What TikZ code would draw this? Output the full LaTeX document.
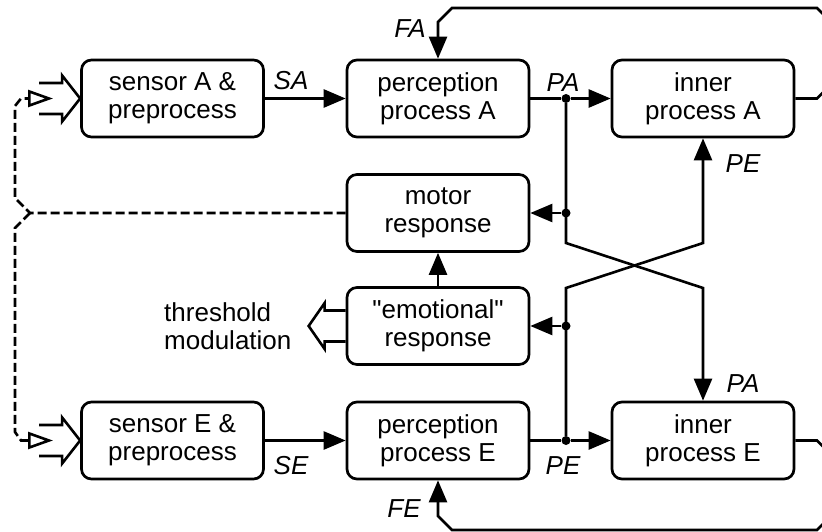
\documentclass[tikz,border=0pt]{standalone}
\usepackage{fontspec}
\setmainfont{Liberation Sans}[Ligatures=TeXOff]
\usetikzlibrary{arrows.meta}
\tikzset{
    block/.style={
        draw, line width=2.7pt, rounded corners=10pt,
        minimum width=182pt, minimum height=77pt,
        align=center, font=\fontsize{26}{28}\selectfont
    },
    wire/.style={line width=2.6pt},
    arr/.style={wire, -{Triangle[length=22pt,width=18pt]}},
    ctrl/.style={
        line width=2.6pt, dash pattern=on 9pt off 4pt,
        -{Triangle[open,length=25pt,width=17pt]}
    },
    lbl/.style={font=\fontsize{26}{28}\selectfont\itshape},
    dot/.style={circle, fill, inner sep=0pt, minimum size=9pt}
}
\newcommand{\fatarrow}[3] {
	\draw[wire] ([xshift=#3,yshift=15.5pt]#1) -- ([xshift=#2,yshift=15.5pt]#1) -- ([xshift=#2,yshift=23pt]#1) -- (#1)
		-- ([xshift=#2,yshift=-23pt]#1) -- ([xshift=#2,yshift=-15.5pt]#1) -- ([xshift=#3,yshift=-15.5pt]#1);
}
\begin{document}
\begin{tikzpicture}[x=1pt,y=-1pt]
		\useasboundingbox (0,0) rectangle (822,532);
		\clip (0,0) rectangle (822,532);

		% A row
		\node[block] (sensA) at (172.5,98.5) {sensor A \&\\preprocess};
		\node[block] (percA) at (438,98.5) {perception\\process A};
		\node[block] (innerA) at (703,98.5) {inner\\process A};

		% middle
		\node[block] (motor) at (438,213) {motor\\response};
		\node[block] (emot) at (438,326) {"emotional"\\response};

		% E row
		\node[block] (sensE) at (172.5,440.5) {sensor E \&\\preprocess};
		\node[block] (percE) at (438,440.5) {perception\\process E};
		\node[block] (innerE) at (703,440.5) {inner\\process E};

		% junctions
		\node[dot] (jA) at (566,98.5) {};
		\node[dot] (jE) at (566,440.5) {};
		\node[dot] (mA) at (566,213) {};
		\node[dot] (mE) at (566,326) {};

		\draw[arr] (sensA) -- (percA);
		\draw[arr] (sensE) -- (percE);
		\draw[wire] (percA) -- (jA);
		\draw[wire] (percE) -- (jE);
		\draw[arr] (jA) -- (innerA);
		\draw[arr] (jE) -- (innerE);
		\draw[arr] (jA) -- (566,243) -- (703,288) -- (innerE.north);
		\draw[arr] (jE) -- (566,288) -- (703,243) -- (innerA.south);
		\draw[arr] (mA) -- (motor);
		\draw[arr] (mE) -- (emot);
		\draw[arr] (emot) -- (motor);

		% feedback loops
		\draw[arr] (innerA.east) -- (817,98.5) -- (832,83.5) -- (832,23) -- (817,8) -- (452,8) -- (438,22) -- (percA.north);
		\draw[arr] (innerE.east) -- (817,440.5) -- (832,455.5) -- (832,515) -- (817,530) -- (452,530) -- (438,516) -- (percE.south);

		% motor to sensors
		\coordinate (br) at (30,213);
		\coordinate (inA) at (53,98.5);
		\coordinate (inE) at (53,440.5);
		\draw[ctrl] (motor.west) -- (br) -- (15,198) -- (15,106) -- (21,98.5) -- (inA);
		\draw[ctrl] (br) -- (15,228) -- (15,432) -- (21,440.5) -- (inE);

		% stimuli and threshold output
		\fatarrow{sensA.west}{-18pt}{-41pt}
		\fatarrow{sensE.west}{-18pt}{-41pt}
		\coordinate (thr) at ([xshift=-37pt]emot.west);
		\fatarrow{thr}{16pt}{37pt}
		\node[font=\fontsize{26}{28}\selectfont, align=left, anchor=west, inner sep=0pt] (thrtext) at (164,326) {threshold\\modulation};

		% signal labels
		\node[lbl] (labSA) at (291,81) {SA};
		\node[lbl] (labSE) at (291,466) {SE};
		\node[lbl] (labPA) at (563,83) {PA};
		\node[lbl] (labPE) at (563,466) {PE};
		\node[lbl] (labPE2) at (743,164) {PE};
		\node[lbl] (labPA2) at (743,384) {PA};
		\node[lbl] (labFA) at (410,29) {FA};
		\node[lbl] (labFE) at (404,509) {FE};

	\end{tikzpicture}
\end{document}
